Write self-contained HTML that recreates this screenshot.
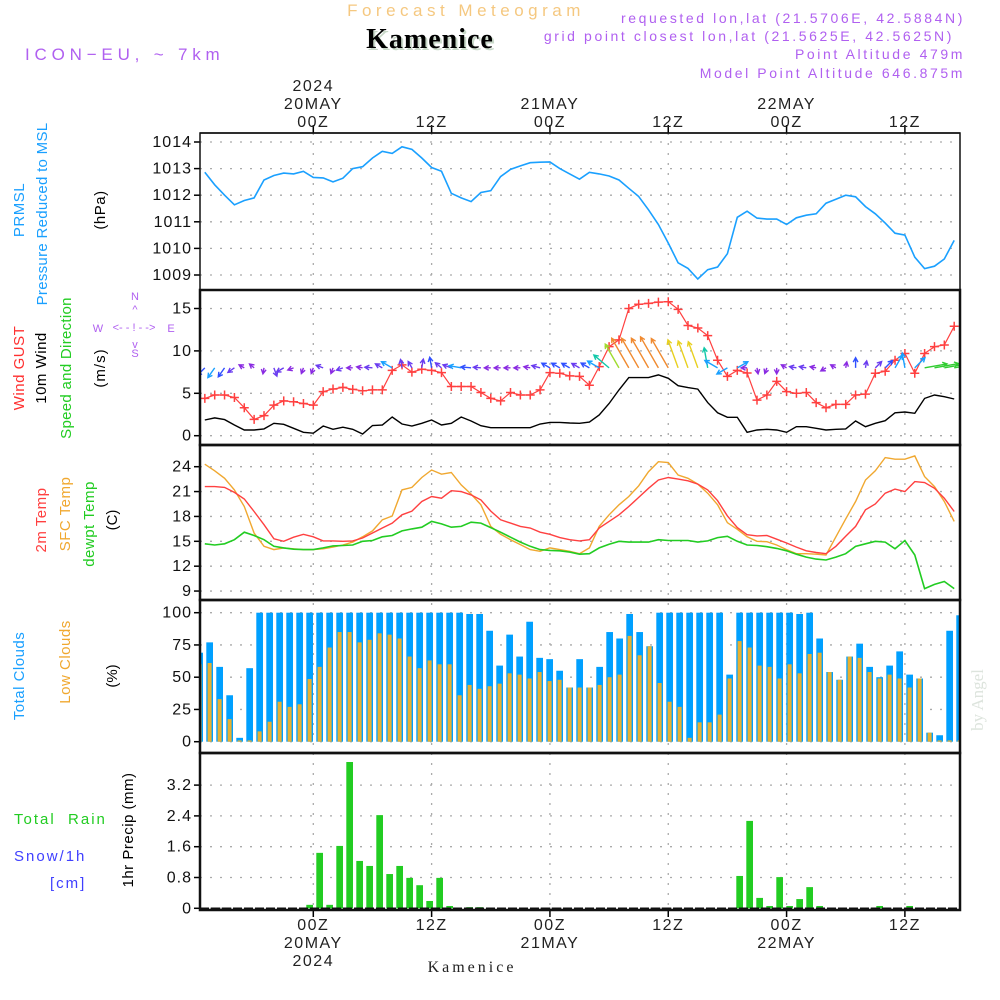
<!DOCTYPE html>
<html><head><meta charset="utf-8">
<style>
html,body{margin:0;padding:0;background:#fff;}
svg{display:block;font-family:"Liberation Sans",sans-serif;}
.tk{font-size:16px;fill:#111;letter-spacing:1px;}
.tl{font-size:16px;fill:#222;letter-spacing:1.5px;}
.grid{stroke:#aaa;stroke-width:1.3;stroke-dasharray:2 8;}
</style></head><body>
<svg id="chart" width="1000" height="1000" viewBox="0 0 1000 1000" xmlns="http://www.w3.org/2000/svg">
<text x="466" y="16" text-anchor="middle" font-size="17" fill="#f5c880" letter-spacing="4.5">Forecast Meteogram</text>
<text x="432" y="50" text-anchor="middle" font-size="28" font-weight="bold" font-family="Liberation Serif, serif" fill="#c8d8c8" letter-spacing="1">Kamenice</text>
<text x="430" y="48" text-anchor="middle" font-size="28" font-weight="bold" font-family="Liberation Serif, serif" fill="#000" letter-spacing="1">Kamenice</text>
<text x="25" y="60" font-size="17" fill="#b060f0" letter-spacing="4.8">ICON−EU, ~ 7km</text>
<g font-size="14" fill="#b060f0" text-anchor="end" letter-spacing="2.6">
<text x="965" y="23">requested lon,lat (21.5706E, 42.5884N)</text>
<text x="954" y="41">grid point closest lon,lat (21.5625E, 42.5625N)</text>
<text x="965" y="59">Point Altitude 479m</text>
<text x="965" y="78">Model Point Altitude 646.875m</text>
</g>
<g id="grids"></g>
<g id="marks"></g>
<g id="frame"></g>
<g id="labels"></g>
<g>
<text transform="translate(24,210) rotate(-90)" text-anchor="middle" font-size="15" fill="#1aa0ff" letter-spacing="0.5">PRMSL</text>
<text transform="translate(47,214) rotate(-90)" text-anchor="middle" font-size="15" fill="#1aa0ff" letter-spacing="0.3">Pressure Reduced to MSL</text>
<text transform="translate(105,210) rotate(-90)" text-anchor="middle" font-size="15" fill="#000" letter-spacing="0.5">(hPa)</text>
<text transform="translate(24,368) rotate(-90)" text-anchor="middle" font-size="15" fill="#ff3030" letter-spacing="0.5">Wind GUST</text>
<text transform="translate(46,368) rotate(-90)" text-anchor="middle" font-size="15" fill="#000" letter-spacing="0.5">10m Wind</text>
<text transform="translate(71,368) rotate(-90)" text-anchor="middle" font-size="15" fill="#22cc22" letter-spacing="0.3">Speed and Direction</text>
<text transform="translate(105,368) rotate(-90)" text-anchor="middle" font-size="15" fill="#000" letter-spacing="1">(m/s)</text>
<g fill="#b060f0" font-size="11" text-anchor="middle">
<text x="135" y="300">N</text><text x="135" y="313">^</text>
<text x="98" y="332">W</text><text x="134" y="331">&lt;- - ! - -&gt;</text><text x="171" y="332">E</text>
<text x="135" y="348">v</text><text x="135" y="357">S</text>
</g>
<text transform="translate(46,520) rotate(-90)" text-anchor="middle" font-size="15" fill="#ff4040" letter-spacing="0.5">2m Temp</text>
<text transform="translate(70,514) rotate(-90)" text-anchor="middle" font-size="15" fill="#f0a830" letter-spacing="0.5">SFC Temp</text>
<text transform="translate(94,524) rotate(-90)" text-anchor="middle" font-size="15" fill="#22cc22" letter-spacing="0.5">dewpt Temp</text>
<text transform="translate(117,520) rotate(-90)" text-anchor="middle" font-size="15" fill="#000">(C)</text>
<text transform="translate(24,676) rotate(-90)" text-anchor="middle" font-size="15" fill="#1aa0ff" letter-spacing="0.5">Total Clouds</text>
<text transform="translate(70,662) rotate(-90)" text-anchor="middle" font-size="15" fill="#f0a830" letter-spacing="0.5">Low Clouds</text>
<text transform="translate(117,676) rotate(-90)" text-anchor="middle" font-size="15" fill="#000">(%)</text>
<text transform="translate(133,830) rotate(-90)" text-anchor="middle" font-size="15" fill="#000" letter-spacing="0.5">1hr Precip (mm)</text>
<text x="14" y="824" font-size="15" fill="#22cc22" letter-spacing="2" xml:space="preserve">Total  Rain</text>
<text x="14" y="861" font-size="15" fill="#4040ff" letter-spacing="2">Snow/1h</text>
<text x="50" y="888" font-size="15" fill="#4040ff" letter-spacing="2">[cm]</text>
</g>
<text transform="translate(983,700) rotate(-90)" text-anchor="middle" font-size="17" font-family="Liberation Serif, serif" fill="#dde4dd">by Angel</text>
<text x="472" y="972" text-anchor="middle" font-size="16" font-family="Liberation Serif, serif" fill="#222" letter-spacing="3">Kamenice</text>
</svg>
<script>
const hours = [];
for (let h = -11; h <= 65; h++) hours.push(h);
const pressure = [1012.86,1012.39,1012.0,1011.64,1011.8,1011.9,1012.57,1012.74,1012.83,1012.8,1012.9,
1012.67,1012.65,1012.5,1012.64,1013.0,1013.07,1013.4,1013.65,1013.57,1013.82,
1013.72,1013.4,1013.04,1012.9,1012.07,1011.9,1011.76,1012.1,1012.17,1012.7,
1012.97,1013.1,1013.22,1013.24,1013.25,1013.0,1012.8,1012.6,1012.86,1012.8,
1012.72,1012.57,1012.26,1011.95,1011.45,1010.9,1010.2,1009.46,1009.25,1008.85,
1009.2,1009.3,1009.8,1011.17,1011.4,1011.14,1011.1,1011.1,1010.9,1011.15,
1011.25,1011.3,1011.7,1011.85,1012.0,1011.94,1011.57,1011.3,1010.95,1010.57,
1010.5,1009.67,1009.24,1009.33,1009.6,1010.3];
const windSpeed = [1.85,2.1,1.9,1.26,0.67,0.67,0.8,1.46,1.34,0.87,0.4,
0.3,1.14,0.75,1.0,0.75,0.2,1.2,1.26,2.2,1.38,
1.14,1.46,1.85,1.26,1.46,2.2,1.73,1.18,0.94,0.94,
0.94,0.94,0.94,1.38,1.57,1.57,1.5,1.46,1.6,2.44,
3.8,5.4,6.85,6.85,6.85,7.17,6.77,5.9,5.67,5.5,
3.9,2.7,2.17,2.17,0.4,0.67,0.75,0.67,0.4,1.06,
1.06,0.87,0.67,0.75,0.8,1.73,1.06,1.46,1.77,2.7,
2.8,2.64,4.4,4.8,4.6,4.33];
const windGust = [4.4,4.8,4.8,4.5,3.3,1.93,2.36,3.6,4.1,4.0,3.8,
3.6,5.2,5.5,5.7,5.47,5.3,5.4,5.4,7.7,8.35,
7.5,7.83,7.7,7.44,5.8,5.8,5.8,5.1,4.4,4.1,
5.1,4.8,4.8,5.4,7.44,7.36,7.05,7.0,5.95,8.15,
10.5,11.3,15.0,15.5,15.6,15.75,15.8,14.9,13.0,12.7,
11.8,8.9,7.0,7.7,7.4,4.2,4.8,6.4,5.2,5.0,
5.1,3.9,3.3,3.7,3.7,4.8,4.9,7.36,7.6,8.9,
9.7,7.36,9.7,10.5,10.7,12.9];
const windDir = [225,215,215,235,300,310,190,160,240,250,200,
200,290,200,250,270,280,275,300,300,350,
330,10,350,310,290,280,275,275,270,270,
270,270,280,285,300,300,300,300,300,300,
310,330,330,330,330,330,330,340,340,340,
350,300,240,60,270,170,200,180,300,280,
280,280,240,300,10,0,10,45,45,30,
350,45,80,80,80,80];
const temp2m = [21.6,21.6,21.5,20.9,20.1,18.6,17.0,15.3,15.0,15.5,15.85,
15.55,15.05,15.05,15.0,15.05,15.4,16.0,16.6,17.2,18.2,
18.65,19.8,20.4,20.2,21.1,21.0,20.6,20.0,18.65,17.6,
17.2,16.8,16.6,16.1,15.85,15.45,15.2,15.05,15.2,16.6,
17.4,18.2,19.2,20.3,21.4,22.4,22.7,22.5,22.3,21.9,
21.2,19.9,18.06,16.65,15.8,15.65,15.7,15.25,14.8,14.3,
13.85,13.65,13.5,14.4,15.6,16.8,18.8,19.5,20.8,21.3,
21.0,22.2,22.1,21.4,20.2,18.6];
const tempSfc = [24.3,23.5,22.6,21.2,19.2,16.0,14.4,14.0,14.2,14.1,14.0,
14.0,14.1,14.3,14.55,14.9,15.55,16.25,17.6,18.05,21.2,
21.5,22.7,23.6,23.1,23.3,21.8,20.7,19.4,16.8,15.85,
15.2,14.6,14.0,13.8,14.2,14.0,13.8,13.5,14.2,16.8,
18.2,19.4,20.4,21.7,23.4,24.6,24.5,23.0,22.6,21.9,
20.8,19.4,17.25,16.45,15.55,15.0,14.95,14.55,14.0,13.5,
13.5,13.45,13.35,15.55,17.7,19.8,22.4,23.5,25.1,24.9,
24.9,25.3,22.8,21.6,19.8,17.4];
const dewpt = [14.7,14.55,14.7,15.2,16.1,15.7,15.2,14.4,14.2,14.05,14.0,
14.0,14.2,14.45,14.5,14.55,15.0,15.1,15.55,15.7,16.25,
16.5,16.7,17.4,17.1,16.7,16.8,17.3,17.2,16.65,16.1,
15.5,14.9,14.4,14.0,13.9,13.85,13.7,13.45,13.5,14.2,
14.65,15.0,14.9,14.9,14.9,15.2,15.1,15.1,15.1,14.9,
15.05,15.45,15.6,15.0,14.55,14.5,14.35,14.15,13.85,13.45,
13.1,12.85,12.75,13.1,13.5,14.4,14.7,15.0,14.9,14.1,
15.1,13.35,9.3,9.8,10.15,9.3];
const totalClouds = [69,77,58,36,3,57,100,100,100,100,100,
100,100,100,100,100,100,100,100,100,100,
100,100,100,100,100,100,99,99,86,59,
83,66,93,65,64,55,42,64,42,58,
85,80,99,85,74,100,100,100,100,100,
100,100,52,100,100,100,100,100,100,99,
100,80,54,48,66,76,58,50,59,70,
52,49,7,5,86,98];
const lowClouds = [60,61,33,17.5,1,1,8,15.5,31,27,29,
48.6,58,73,85,85,77,79,84,83,80,
66,57,63,60,60,36,44,41,43,45,
53,52,49,54,47,48,42,42,42,44,
50,52,82,67,74,45.5,31,27,3,15,
15,21,49,78,73,59,58,49,60,53,
68,69,54,48,66,65,54,49,52,49,
42,49,7,1,1,1];
const precip = [0,0,0,0,0,0,0,0,0,0,0,
0.09,1.44,0.09,1.62,3.8,1.23,1.1,2.42,0.89,1.1,0.79,0.6,0.19,0.79,0.06,0,0.03,0.03,
0,0,0,0,0,0,0,0,0,0,0,0,0,0,0,0,0,0,0,0,0,0,0,0,0,
0.84,2.27,0.27,0.06,0.81,0.06,0.24,0.55,0.06,
0,0,0,0,0,
0.06,0,0,0.06,
0,0,0,0,0];
const pressTicks = [1009,1010,1011,1012,1013,1014];
const windTicks = [0,5,10,15];
const tempTicks = [9,12,15,18,21,24];
const cloudTicks = [0,25,50,75,100];
const precipTicks = [0,0.8,1.6,2.4,3.2];
const timeTicks = [0,12,24,36,48,60];
const timeTop = [["2024","20MAY","00Z"],["","","12Z"],["","21MAY","00Z"],["","","12Z"],["","22MAY","00Z"],["","","12Z"]];
const timeBottom = [["00Z","20MAY","2024"],["12Z","",""],["00Z","21MAY",""],["12Z","",""],["00Z","22MAY",""],["12Z","",""]];

const NS = "http://www.w3.org/2000/svg";
const L = 200, R = 960;
const panels = [[133,290],[290,445],[445,600],[600,753],[753,910]];
const X = h => 313.3 + 9.86 * h;
const XB = h => 199.6 + 10 * (h + 11);
const yP = p => 142 + (1014 - p) * 26.6;
const yW = v => 435.7 - v * 8.48;
const yT = t => 466.7 + (24 - t) * 8.29;
const yC = c => 741.7 - c * 1.29;
const yR = m => 908.3 - m * 38.5;
function mk(tag, attrs, parent) {
  const e = document.createElementNS(NS, tag);
  for (const k in attrs) e.setAttribute(k, attrs[k]);
  parent.appendChild(e);
  return e;
}
const grids = document.getElementById('grids');
const marks = document.getElementById('marks');
const frame = document.getElementById('frame');
const labels = document.getElementById('labels');

const defs = mk('defs', {}, document.getElementById('chart'));
const cp = mk('clipPath', {id: 'plotclip'}, defs);
mk('rect', {x: L, y: 133, width: R - L, height: 777}, cp);
marks.setAttribute('clip-path', 'url(#plotclip)');

function hAxis(ticks, yf, fmt) {
  ticks.forEach(t => {
    const y = yf(t);
    const g = mk('line', {x1: L, x2: R, y1: y, y2: y, class: 'grid'}, grids);
    
    
    mk('line', {x1: L - 6, x2: L, y1: y, y2: y, stroke: '#000', 'stroke-width': 1.5}, frame);
    const tx = mk('text', {x: L - 8, y: y + 5, 'text-anchor': 'end', class: 'tk'}, labels);
    tx.textContent = fmt ? fmt(t) : t;
    
    
  });
}
hAxis(pressTicks, yP);
hAxis(windTicks, yW);
hAxis(tempTicks, yT);
hAxis(cloudTicks, yC);
hAxis(precipTicks, yR, v => v === 0 ? '0' : v.toFixed(1));

timeTicks.forEach((h, i) => {
  const x = X(h);
  const g = mk('line', {x1: x, x2: x, y1: 133, y2: 910, class: 'grid'}, grids);
  
  
  mk('line', {x1: x, x2: x, y1: 125, y2: 133, stroke: '#000', 'stroke-width': 1.5}, frame);
  mk('line', {x1: x, x2: x, y1: 910, y2: 917, stroke: '#000', 'stroke-width': 1.5}, frame);
  timeTop[i].forEach((s, j) => {
    if (!s) return;
    const t = mk('text', {x: x, y: 91 + j * 18, 'text-anchor': 'middle', class: 'tl'}, labels);
    t.textContent = s;
    
    
  });
  timeBottom[i].forEach((s, j) => {
    if (!s) return;
    const t = mk('text', {x: x, y: 930 + j * 18, 'text-anchor': 'middle', class: 'tl'}, labels);
    t.textContent = s;
    
    
  });
});

function line(arr, yf, color, name, w) {
  const pts = arr.map((v, i) => X(hours[i]).toFixed(1) + ',' + yf(v).toFixed(1)).join(' ');
  const p = mk('polyline', {points: pts, fill: 'none', stroke: color, 'stroke-width': w || 1.6}, marks);
  
  
}
line(pressure, yP, '#1aa0ff', 'pressure-line');
line(windSpeed, yW, '#000', 'wind-speed-line', 1.4);
line(windGust, yW, '#ff4040', 'wind-gust-line', 1.2);
windGust.forEach((v, i) => {
  const x = X(hours[i]), y = yW(v);
  const m = mk('path', {d: `M${x-4.5},${y}H${x+4.5}M${x},${y-4.5}V${y+4.5}`, stroke: '#ff4040', 'stroke-width': 1.5}, marks);
  
  
});
function windColor(s) {
  if (s < 1) return '#8a2be2';
  if (s < 1.5) return '#6a3cf0';
  if (s < 2) return '#3050ff';
  if (s < 3) return '#1aa0ff';
  if (s < 4) return '#10c8a8';
  if (s < 5) return '#30cc30';
  if (s < 5.5) return '#a0dc30';
  if (s < 6) return '#e8d020';
  if (s < 6.5) return '#f0b020';
  return '#f08a30';
}
windDir.forEach((d, i) => {
  const s = windSpeed[i];
  const len = Math.max(6, 4.7 * s + 2);
  const x0 = X(hours[i]), y0 = yW(8);
  const a = d * Math.PI / 180;
  const x1 = x0 + len * Math.sin(a), y1 = y0 - len * Math.cos(a);
  const hl = 5, ha = 0.5;
  const bx = -Math.sin(a), by = Math.cos(a);
  const hx1 = x1 + hl * (bx * Math.cos(ha) - by * Math.sin(ha));
  const hy1 = y1 + hl * (bx * Math.sin(ha) + by * Math.cos(ha));
  const hx2 = x1 + hl * (bx * Math.cos(-ha) - by * Math.sin(-ha));
  const hy2 = y1 + hl * (bx * Math.sin(-ha) + by * Math.cos(-ha));
  const p = mk('path', {d: `M${x0},${y0}L${x1},${y1}M${hx1},${hy1}L${x1},${y1}L${hx2},${hy2}`, fill: 'none', stroke: windColor(s), 'stroke-width': 1.4}, marks);
  
  
});
line(tempSfc, yT, '#f0a830', 'sfc-temp-line', 1.4);
line(temp2m, yT, '#ff4040', '2m-temp-line', 1.4);
line(dewpt, yT, '#22cc22', 'dewpoint-line', 1.6);

totalClouds.forEach((v, i) => {
  const c = XB(hours[i]);
  const b = mk('rect', {x: c - 3.3, y: yC(v), width: 6.7, height: yC(0) - yC(v), fill: '#00a0ff'}, marks);
  
  
  const lv = lowClouds[i];
  const o = mk('rect', {x: c - 2, y: yC(lv), width: 4, height: yC(0) - yC(lv), fill: '#e8b030'}, marks);
  
  
});
precip.forEach((v, i) => {
  if (v <= 0) return;
  const c = XB(hours[i]);
  const b = mk('rect', {x: c - 3.3, y: yR(v), width: 6.7, height: yR(0) - yR(v), fill: '#22cc22'}, marks);
  
  
});
const snow = mk('line', {x1: L, x2: R, y1: 908.5, y2: 908.5, stroke: '#111', 'stroke-width': 2, 'stroke-dasharray': '9 2'}, marks);



panels.forEach(([t, b], i) => {
  const r = mk('rect', {x: L, y: t, width: R - L, height: b - t, fill: 'none', stroke: '#111', 'stroke-width': i === 0 ? 1.5 : 2.5}, frame);
  
  
});
mk('line', {x1: L, x2: R, y1: 133, y2: 133, stroke: '#111', 'stroke-width': 1.5}, frame);
</script>
</body></html>
